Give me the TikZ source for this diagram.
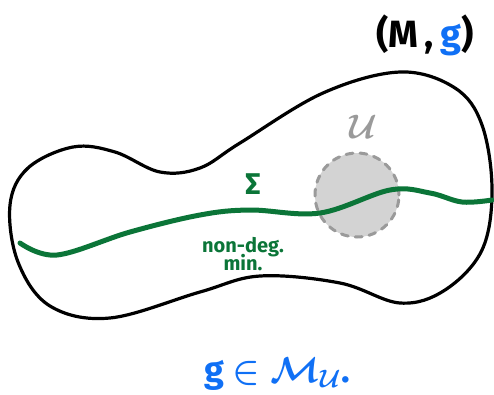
\RequirePackage{fix-cm}
\documentclass[tikz,border=0pt]{standalone}
\usepackage{amsmath}
\usepackage{bm}
\usepackage{fontspec}
\setsansfont{Fira Sans}
\definecolor{mgreen}{HTML}{0B7538}
\definecolor{mblue}{HTML}{1070F5}
\definecolor{mgray}{HTML}{9A9A9A}
\definecolor{mfill}{HTML}{D3D3D3}
\tikzset{
  lbl/.style={inner sep=0pt},
  outline/.style={line width=3.2pt, line cap=round, line join=round},
}
\begin{document}
\begin{tikzpicture}[x=1pt,y=-1pt]
\useasboundingbox (0,0) rectangle (494,394);
% open set U
\node[circle, minimum size=84pt, fill=mfill, draw=mgray, dash pattern=on 7pt off 7pt, line width=3pt, line cap=round, inner sep=0pt] (U) at (357,195) {};
% manifold outline
\draw[outline] plot[smooth cycle, tension=0.6] coordinates {
 (10,205) (28,168) (73,147) (115,152) (160,172) (200,168) (240,143)
 (323,93) (400,72) (455,88) (482,125) (492,190) (482,250) (445,290)
 (400,303) (340,283) (260,276) (200,292) (110,318) (50,306) (18,262)};
% hypersurface Sigma
\draw[mgreen, line width=5pt, line cap=round] plot[smooth, tension=0.6] coordinates {
 (20,243) (57,255) (130,232) (200,215) (250,210) (320,213) (390,190) (430,193) (462,202) (492,200)};
% labels
\node[lbl, text=mgreen, font=\sffamily\bfseries\fontsize{30}{30}\selectfont] (sig) at (253,184) {Σ};
\node[lbl, text=mgreen, font=\sffamily\bfseries\fontsize{20}{20}\selectfont, align=center] (nd) at (243,254) {non-deg.\\[-3pt]min.};
\node[lbl, text=mgray, font=\fontsize{34}{34}\selectfont] (ul) at (363,127) {$\bm{\mathcal{U}}$};
\node[lbl, font=\sffamily\bfseries\fontsize{38}{38}\selectfont] (mg) at (425,35) {(M\,,\,\textcolor{mblue}{g})};
\node[lbl, text=mblue, font=\sffamily\bfseries\fontsize{36}{36}\selectfont] (gm) at (277,374) {g $\bm{\in \mathcal{M}_{\mathcal{U}}}$.};
\end{tikzpicture}
\end{document}
